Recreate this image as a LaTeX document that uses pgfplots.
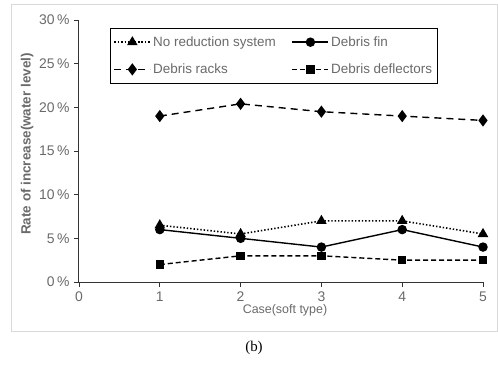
\documentclass[border=0pt]{standalone}
\usepackage{fontspec}
\setmainfont{Liberation Sans}
\newfontfamily\capfont{Liberation Serif}
\usepackage{pgfplots}
\pgfplotsset{compat=1.18}
\definecolor{txtgray}{HTML}{6A6A6A}
\begin{document}
\begin{tikzpicture}[x=1bp,y=1bp]
\useasboundingbox (-79,-83) rectangle (419,282);
\draw[black!15, line width=0.8bp] (-68,-49) rectangle (418,278);
\begin{axis}[
  at={(0,0)}, anchor=south west,
  scale only axis, width=404bp, height=262bp,
  xmin=0, xmax=5, ymin=0, ymax=30,
  xtick={0,1,2,3,4,5},
  ytick={0,5,10,15,20,25,30},
  yticklabel={\pgfmathprintnumber{\tick}\,\%},
  /pgf/number format/assume math mode=true,
  axis x line*=bottom, axis y line*=left,
  axis line style={black!80, line width=1bp, -},
  tick style={black!80, line width=0.8bp},
  tick align=outside, major tick length=5bp,
  ticklabel style={font=\fontsize{14}{16}\selectfont, text=txtgray},
  xticklabel style={yshift=-1bp},
  yticklabel style={xshift=-1bp},
  xlabel={Case(soft type)},
  ylabel={\bfseries Rate of increase(water level)},
  xlabel style={font=\fontsize{12.5}{15}\selectfont, text=txtgray, yshift=4bp, xshift=4bp},
  ylabel style={font=\fontsize{13.5}{15}\selectfont, text=txtgray, yshift=-1bp, xshift=7bp},
  legend columns=2,
  legend style={at={(0.077,0.969)}, anchor=north west, draw=black, line width=0.9bp,
    font=\fontsize{13.5}{15}\selectfont, text=txtgray, inner xsep=3bp, inner ysep=6bp,
    /tikz/every even column/.append style={column sep=14bp},
    row sep=12bp},
  legend cell align=left,
  legend image code/.code={
    \draw[mark repeat=2,mark phase=2] plot coordinates {(0bp,0bp) (18bp,0bp) (36bp,0bp)};},
  every axis plot/.append style={line width=1.4bp, black},
]
\addplot[dotted, line width=1.6bp, mark=triangle*, mark size=4.5bp, mark options={solid}]
  coordinates {(1,6.5) (2,5.5) (3,7) (4,7) (5,5.5)};
\addlegendentry{No reduction system}
\addplot[solid, mark=*, mark size=4bp]
  coordinates {(1,6) (2,5) (3,4) (4,6) (5,4)};
\addlegendentry{Debris fin}
\addplot[dash pattern=on 7bp off 5bp, mark=diamond*, mark size=5bp, mark options={solid}]
  coordinates {(1,19) (2,20.4) (3,19.5) (4,19) (5,18.5)};
\addlegendentry{Debris racks}
\addplot[dash pattern=on 5bp off 3bp, mark=square*, mark size=3.5bp, mark options={solid}]
  coordinates {(1,2) (2,3) (3,3) (4,2.5) (5,2.5)};
\addlegendentry{Debris deflectors\hspace{24bp}}
\end{axis}
\node[font=\capfont\fontsize{15}{17}\selectfont] at (175,-66) {(b)};
\end{tikzpicture}
\end{document}
